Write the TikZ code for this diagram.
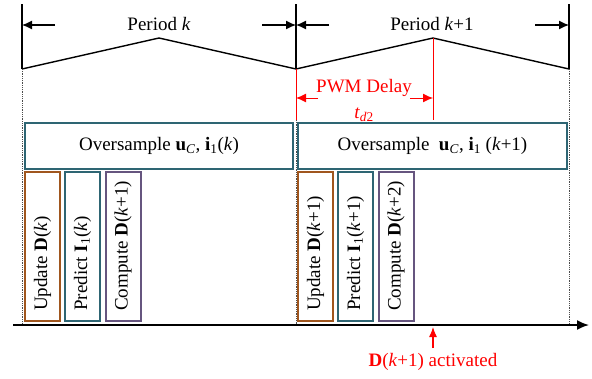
\documentclass[tikz,border=0pt]{standalone}
\usepackage{fontspec}
\setmainfont{Liberation Serif}
\usetikzlibrary{arrows.meta}
\definecolor{cbrown}{HTML}{A0561E}
\definecolor{cteal}{HTML}{2E6573}
\definecolor{cpurple}{HTML}{66557F}
\definecolor{cred}{HTML}{FF0000}
\begin{document}
\begin{tikzpicture}[x=1pt,y=-1pt,
  lbl/.style={font=\fontsize{19}{21}\selectfont, inner sep=0pt},
  dimarrow/.style={-{Latex[length=10pt,width=9pt]}, line width=1.2pt},
  bigbox/.style={draw=cteal, line width=2pt, minimum height=46pt, inner sep=0pt},
  taskbox/.style={line width=2pt, minimum width=35pt, minimum height=149pt, inner sep=0pt},
  tasktext/.style={lbl, rotate=90, anchor=west},
  guide/.style={densely dotted, line width=0.8pt, black!70},
  wave/.style={line width=1.4pt},
]
\useasboundingbox (0,0) rectangle (592,378);

% period boundaries
\coordinate (t0) at (22,4);   \coordinate (b0) at (22,69);
\coordinate (t1) at (296,4);  \coordinate (b1) at (296,69);
\coordinate (t2) at (569,4);  \coordinate (b2) at (569,69);
\coordinate (p1) at (159,38); \coordinate (p2) at (433,38);
\coordinate (a0) at (22,325); \coordinate (a1) at (296,325); \coordinate (a2) at (569,325);
\coordinate (r1) at (296,120); \coordinate (rp) at (433,120);

\draw[wave] (t0) -- (b0);
\draw[wave] (t1) -- (b1);
\draw[wave] (t2) -- (b2);
\draw[wave] (b0) -- (p1) -- (b1) -- (p2) -- (b2);

% dotted guides
\draw[guide] (b0) -- (a0);
\draw[guide] (r1) -- (a1);
\draw[guide] (b2) -- (a2);

% period labels and arrows
\node[lbl] (per1) at (159,24) {Period \textit{k}};
\node[lbl] (per2) at (432,24) {Period \textit{k}+1};
\coordinate (l1a) at (55,25);  \coordinate (l1b) at (22,25);
\coordinate (l1c) at (262,25); \coordinate (l1d) at (296,25);
\coordinate (l2a) at (329,25); \coordinate (l2b) at (296,25);
\coordinate (l2c) at (535,25); \coordinate (l2d) at (569,25);
\draw[dimarrow] (l1a) -- (l1b);
\draw[dimarrow] (l1c) -- (l1d);
\draw[dimarrow] (l2a) -- (l2b);
\draw[dimarrow] (l2c) -- (l2d);

% PWM delay
\draw[cred, line width=1pt] (b1) -- (r1);
\draw[cred, line width=1pt] (p2) -- (rp);
\node[lbl, text=cred] (pwm) at (364,88) {PWM Delay};
\node[lbl, text=cred] (td) at (364,115) {\textit{t}\textsubscript{\textit{d}2}};
\coordinate (d1a) at (318,98); \coordinate (d1b) at (296,98);
\coordinate (d2a) at (410,98); \coordinate (d2b) at (433,98);
\draw[dimarrow, cred, line width=1pt] (d1a) -- (d1b);
\draw[dimarrow, cred, line width=1pt] (d2a) -- (d2b);

% oversample boxes
\node[bigbox, minimum width=268pt] (ov1) at (159,146) {};
\node[lbl] at (ov1) {Oversample \textbf{u}\textsubscript{\textit{C}}, \textbf{i}\textsubscript{1}(\textit{k})};
\node[bigbox, minimum width=269pt] (ov2) at (432.5,146) {};
\node[lbl] at (ov2) {Oversample\ \ \textbf{u}\textsubscript{\textit{C}}, \textbf{i}\textsubscript{1} (\textit{k}+1)};

% task boxes period k
\node[taskbox, draw=cbrown] (u1) at (42.5,246.5) {};
\node[taskbox, draw=cteal] (pr1) at (82.5,246.5) {};
\node[taskbox, draw=cpurple] (c1) at (123,246.5) {};
\node[tasktext] at (42.5,311) {Update \textbf{D}(\textit{k})};
\node[tasktext] at (82.5,311) {Predict \textbf{I}\textsubscript{1}(\textit{k})};
\node[tasktext] at (123,311) {Compute \textbf{D}(\textit{k}+1)};

% task boxes period k+1
\node[taskbox, draw=cbrown] (u2) at (315.5,246.5) {};
\node[taskbox, draw=cteal] (pr2) at (355.5,246.5) {};
\node[taskbox, draw=cpurple] (c2) at (396,246.5) {};
\node[tasktext] at (315.5,311) {Update \textbf{D}(\textit{k}+1)};
\node[tasktext] at (355.5,311) {Predict \textbf{I}\textsubscript{1}(\textit{k}+1)};
\node[tasktext] at (396,311) {Compute \textbf{D}(\textit{k}+2)};

% time axis
\coordinate (ax0) at (13,325); \coordinate (ax1) at (589,325);
\draw[line width=1.8pt, -{Latex[length=12pt,width=10pt]}] (ax0) -- (ax1);

% activation
\coordinate (act0) at (433,348); \coordinate (act1) at (433,327);
\draw[cred, line width=1.2pt, -{Latex[length=10pt,width=8pt]}] (act0) -- (act1);
\node[lbl, text=cred] (act) at (433,362) {\textbf{D}(\textit{k}+1) activated};
\end{tikzpicture}
\end{document}
